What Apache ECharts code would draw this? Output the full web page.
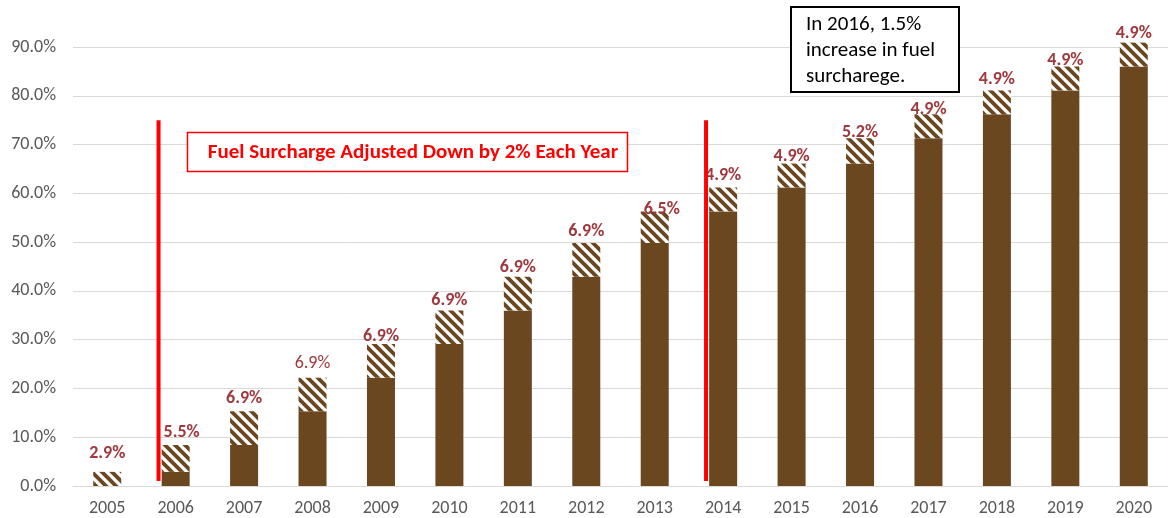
<!DOCTYPE html>
<html>
<head>
<meta charset="utf-8">
<script src="https://cdn.jsdelivr.net/npm/echarts@6/dist/echarts.min.js"></script>
<style>html,body{margin:0;padding:0;background:#fff}#c{width:1168px;height:518px}</style>
</head>
<body>
<div id="c"></div>
<script>
const years = ['2005','2006','2007','2008','2009','2010','2011','2012','2013','2014','2015','2016','2017','2018','2019','2020'];
const baseValues = [0, 2.9, 8.4, 15.3, 22.2, 29.1, 36.0, 42.9, 49.8, 56.3, 61.2, 66.1, 71.3, 76.2, 81.1, 86.0];
const increaseValues = [2.9, 5.5, 6.9, 6.9, 6.9, 6.9, 6.9, 6.9, 6.5, 4.9, 4.9, 5.2, 4.9, 4.9, 4.9, 4.9];
const yTicks = [0, 10, 20, 30, 40, 50, 60, 70, 80, 90];
const redNote = 'Fuel Surcharge Adjusted Down by 2% Each Year';
const blackNote = ['In 2016, 1.5%', 'increase in fuel', 'surcharege.'];
const dividerYears = ['2006', '2014'];

const BROWN = '#6B4720';
const LABEL = '#A0393D';
const FONT = 'Calibri, Carlito, "Open Sans", "Noto Sans", sans-serif';
// manual label placement (style only): [dx, extra lift in px]
const labelNudge = [[0,9],[6,4],[0,4],[0,5],[0,-1],[0,1],[0,0],[0,3],[7,-7],[0,3],[0,-2],[0,-3],[0,-4],[0,2],[0,-3],[0,0]];

function hatch() {
  const s = 10;
  const c = document.createElement('canvas');
  c.width = s; c.height = s;
  const g = c.getContext('2d');
  g.fillStyle = '#fff'; g.fillRect(0, 0, s, s);
  g.strokeStyle = BROWN; g.lineWidth = 3.8;
  g.beginPath();
  for (let k = -1; k <= 1; k++) {
    g.moveTo(k * s - 2, -2); g.lineTo(k * s + s + 2, s + 2);
  }
  g.stroke();
  return c;
}

const chart = echarts.init(document.getElementById('c'), null, {renderer: 'canvas'});
const option = {
  animation: false,
  grid: {left: 73, right: 0, top: 47, bottom: 32},
  xAxis: {
    type: 'category', data: years,
    axisLine: {lineStyle: {color: '#d9d9d9', width: 1}},
    axisTick: {show: false},
    axisLabel: {color: '#595959', fontSize: 18, fontFamily: FONT, margin: 13}
  },
  yAxis: {
    type: 'value', min: yTicks[0], max: yTicks[yTicks.length - 1], interval: 10,
    axisLine: {show: false}, axisTick: {show: false},
    splitLine: {lineStyle: {color: '#d9d9d9', width: 1}},
    axisLabel: {color: '#595959', fontSize: 18, fontFamily: FONT, margin: 17,
      formatter: v => v.toFixed(1) + '%'}
  },
  series: [
    {type: 'bar', stack: 's', data: baseValues, barWidth: 28, clip: false,
      itemStyle: {color: BROWN}},
    {type: 'bar', stack: 's', clip: false, barWidth: 28, z: 3,
      data: increaseValues.map((v, i) => ({
        value: v,
        label: Object.assign({offset: [labelNudge[i][0], -labelNudge[i][1]]},
          years[i] === '2008' ? {fontWeight: 'normal'} : {})
      })),
      itemStyle: {color: {image: hatch(), repeat: 'repeat'}},
      label: {show: true, position: 'top', distance: 0, color: LABEL, fontWeight: 'bold',
        fontSize: 18, fontFamily: FONT, formatter: p => p.value.toFixed(1) + '%'}}
  ]
};
chart.setOption(option);

const bw = chart.getModel().getComponent('xAxis', 0).axis.getBandWidth();
const lines = dividerYears.map(y => {
  const x = chart.convertToPixel({xAxisIndex: 0}, y) - bw * 0.25;
  const y1 = chart.convertToPixel({yAxisIndex: 0}, 75);
  const y2 = chart.convertToPixel({yAxisIndex: 0}, 1);
  return {type: 'line', shape: {x1: x, y1: y1, x2: x, y2: y2}, style: {stroke: '#FF0000', lineWidth: 4}, z: 10};
});
chart.setOption({graphic: lines.concat([
  {type: 'rect', shape: {x: 187.5, y: 132.5, width: 440, height: 39}, style: {fill: '#fff', stroke: '#FF0000', lineWidth: 1.5}, z: 10},
  {type: 'text', x: 413, y: 153, style: {text: redNote, fill: '#FF0000', font: 'bold 21px ' + FONT, align: 'center', verticalAlign: 'middle'}, z: 11},
  {type: 'rect', shape: {x: 791, y: 7, width: 168, height: 85}, style: {fill: '#fff', stroke: '#000', lineWidth: 2}, z: 10},
  {type: 'text', x: 806, y: 12, style: {text: blackNote.join('\n'), fill: '#000', font: '21px ' + FONT, lineHeight: 26, align: 'left', verticalAlign: 'top'}, z: 11}
])});
</script>
</body>
</html>
